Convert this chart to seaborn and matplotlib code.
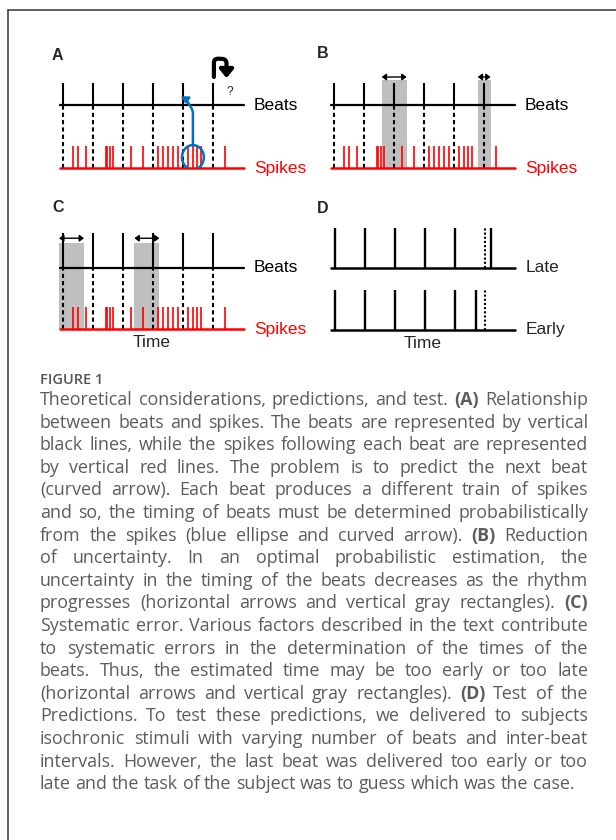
import matplotlib
matplotlib.use("Agg")
from matplotlib import pyplot as plt
from matplotlib.patches import Rectangle, Ellipse, FancyArrowPatch
from matplotlib.lines import Line2D
import seaborn as sns

W, H = 616, 840

# time in beat periods
beats = [0, 1, 2, 3, 4, 5]
spikes = [0.33, 0.5, 0.77, 1.42, 1.48, 1.55, 1.68, 2.27, 2.67,
          3.17, 3.33, 3.5, 3.67, 3.83, 4.17, 4.32, 4.47, 4.6, 5.4]
b_windows = [(1.59, 2.42), (4.79, 5.22)]
c_windows = [(-0.13, 0.7), (2.38, 3.21)]
d_regular = [0, 1, 2, 3, 4]
d_expected = 5
d_late = 5.22
d_early = 4.72

caption_title = "FIGURE 1"
caption_lines = [
    "Theoretical considerations, predictions, and test. (A) Relationship",
    "between beats and spikes. The beats are represented by vertical",
    "black lines, while the spikes following each beat are represented",
    "by vertical red lines. The problem is to predict the next beat",
    "(curved arrow). Each beat produces a different train of spikes",
    "and so, the timing of beats must be determined probabilistically",
    "from the spikes (blue ellipse and curved arrow). (B) Reduction",
    "of uncertainty. In an optimal probabilistic estimation, the",
    "uncertainty in the timing of the beats decreases as the rhythm",
    "progresses (horizontal arrows and vertical gray rectangles). (C)",
    "Systematic error. Various factors described in the text contribute",
    "to systematic errors in the determination of the times of the",
    "beats. Thus, the estimated time may be too early or too late",
    "(horizontal arrows and vertical gray rectangles). (D) Test of the",
    "Predictions. To test these predictions, we delivered to subjects",
    "isochronic stimuli with varying number of beats and inter-beat",
    "intervals. However, the last beat was delivered too early or too",
    "late and the task of the subject was to guess which was the case.",
]
bold_words = {"(A)", "(B)", "(C)", "(D)"}

sns.set_theme(style="white")
plt.rcParams['font.family'] = ['Liberation Sans', 'DejaVu Sans']

fig = plt.figure(figsize=(W / 100, H / 100), dpi=100)
fig.patch.set_facecolor("white")

TOP = 5.2


def panel(x0, base):
    # t=0 at pixel x0, 30 px per beat, 22 px per y unit, baseline at pixel row base
    left = x0 - 36
    ax = fig.add_axes([left / W, 1 - base / H, 8.7 * 30 / W, TOP * 22 / H])
    ax.set_xlim(-1.2, 7.5)
    ax.set_ylim(0, TOP)
    ax.axis("off")
    return ax


def beats_spikes(ax, line_y, top_y):
    ax.plot([-0.1, 6.03], [line_y, line_y], color="black", lw=1.6, clip_on=False)
    ax.vlines(beats, line_y, top_y, color="black", lw=1.5, zorder=3)
    ax.vlines(beats, 0, line_y, color="black", lw=1.5, linestyles=(0, (2, 1.5)), zorder=3)
    sns.rugplot(x=spikes, ax=ax, height=1 / TOP, color="red", linewidth=1.2,
                expand_margins=False, zorder=2)
    ax.plot([-0.1, 6.03], [0, 0], color="red", lw=1.8, clip_on=False, zorder=3)
    ax.text(6.37, line_y, "Beats", fontsize=12.5, va="center", ha="left", color="black")
    ax.text(6.37, 0, "Spikes", fontsize=12.5, va="center", ha="left", color="red")


def windows(ax, wins, top, arrow_y):
    for a, b in wins:
        ax.add_patch(Rectangle((a, 0), b - a, top, color="#bfbfbf", lw=0, zorder=1))
        ax.add_patch(FancyArrowPatch((a, arrow_y), (b, arrow_y),
                                     arrowstyle="<|-|>,head_length=0.4,head_width=0.3",
                                     mutation_scale=6.5, lw=1.0, color="black",
                                     shrinkA=0, shrinkB=0, clip_on=False))


# Panel A
axA = panel(63, 168.3)
beats_spikes(axA, 2.86, 3.86)
axA.add_patch(FancyArrowPatch((5.03, 4.15), (5.45, 4.1),
                              connectionstyle="arc,angleA=90,angleB=90,armA=18.5,armB=19,rad=4.4",
                              arrowstyle="-|>,head_length=0.55,head_width=0.45",
                              mutation_scale=9, lw=3.0, color="black",
                              shrinkA=0, shrinkB=0, clip_on=False))
axA.text(5.56, 3.48, "?", fontsize=8.5, ha="center", va="center")
axA.add_patch(Ellipse((4.33, 0.5), 0.73, 1.11, fill=False, edgecolor="#0070C0", lw=1.8, zorder=4))
axA.add_patch(FancyArrowPatch((4.33, 1.06), (4.1, 2.92),
                              connectionstyle="arc,angleA=90,angleB=90,armA=34.5,armB=4.8,rad=3",
                              arrowstyle="-|>,head_length=0.4,head_width=0.3",
                              mutation_scale=8, lw=1.8, color="#0070C0",
                              shrinkA=0, shrinkB=0, zorder=4))

# Panel B
axB = panel(334, 168.3)
windows(axB, b_windows, 4.03, 4.15)
beats_spikes(axB, 2.86, 3.86)

# Panel C
axC = panel(63, 329.3)
windows(axC, c_windows, 3.94, 4.14)
beats_spikes(axC, 2.8, 4.36)
axC.text(2.96, -0.62, "Time", fontsize=12.5, ha="center", va="center")

# Panel D
axD = panel(334.5, 330)
for y0, last, lab in [(2.83, d_late, "Late"), (0, d_early, "Early")]:
    h = 1.8
    axD.plot([-0.13, 6.03], [y0, y0], color="black", lw=1.8, clip_on=False)
    axD.vlines(d_regular + [last], y0, y0 + h, color="black", lw=1.7)
    axD.vlines([d_expected], y0, y0 + h, color="black", lw=1.5, linestyles=(0, (1, 1)))
    axD.text(6.37, y0, lab, fontsize=12.5, va="center", ha="left")
axD.text(2.95, -0.6, "Time", fontsize=12.5, ha="center", va="center")

# panel letters
for lab, x, y in [("A", 52, 55), ("B", 317, 53), ("C", 52, 207), ("D", 317, 208.5)]:
    fig.text(x / W, 1 - y / H, lab, fontsize=11.5, fontweight="bold", ha="left", va="center")

# border
fig.add_artist(Line2D([7.5 / W, 7.5 / W], [0, 1 - 10 / H], transform=fig.transFigure,
                      color="#444444", lw=1.2))
fig.add_artist(Line2D([7.5 / W, 1], [1 - 10 / H, 1 - 10 / H], transform=fig.transFigure,
                      color="#444444", lw=1.2))

# caption
cap_font = ["Open Sans", "DejaVu Sans"]
cap_color = "#5c5c5c"
fig.text(40 / W, 1 - 380 / H, caption_title, fontsize=10.5, color="#555555",
         family=cap_font, fontweight="semibold", ha="left", va="center")

renderer = fig.canvas.get_renderer()
x_left, x_right = 40, 588
normal_w = "normal"


def measure(s, size, bold=False):
    t = fig.text(0, 0, s, fontsize=size, family=cap_font,
                 fontweight="bold" if bold else normal_w)
    w = t.get_window_extent(renderer).width
    t.remove()
    return w


size = 11.0
sp = measure("a a", size) - measure("aa", size)
natural = []
for line in caption_lines:
    words = line.split()
    natural.append(sum(measure(w, size, w in bold_words) for w in words) + (len(words) - 1) * sp)
size = size * (x_right - x_left) / max(natural) * 0.99
space = measure("a a", size) - measure("aa", size)

for i, line in enumerate(caption_lines):
    words = line.split()
    widths = [measure(w, size, w in bold_words) for w in words]
    if i < len(caption_lines) - 1:
        gap = (x_right - x_left - sum(widths)) / (len(words) - 1)
    else:
        gap = space
    x = x_left
    y = 400 + 22.6 * i
    for w, wd in zip(words, widths):
        fig.text(x / W, 1 - y / H, w, fontsize=size, family=cap_font, color=cap_color,
                 fontweight="bold" if w in bold_words else normal_w, ha="left", va="center")
        x += wd + gap

plt.savefig("out.png", dpi=100)
plt.close()
